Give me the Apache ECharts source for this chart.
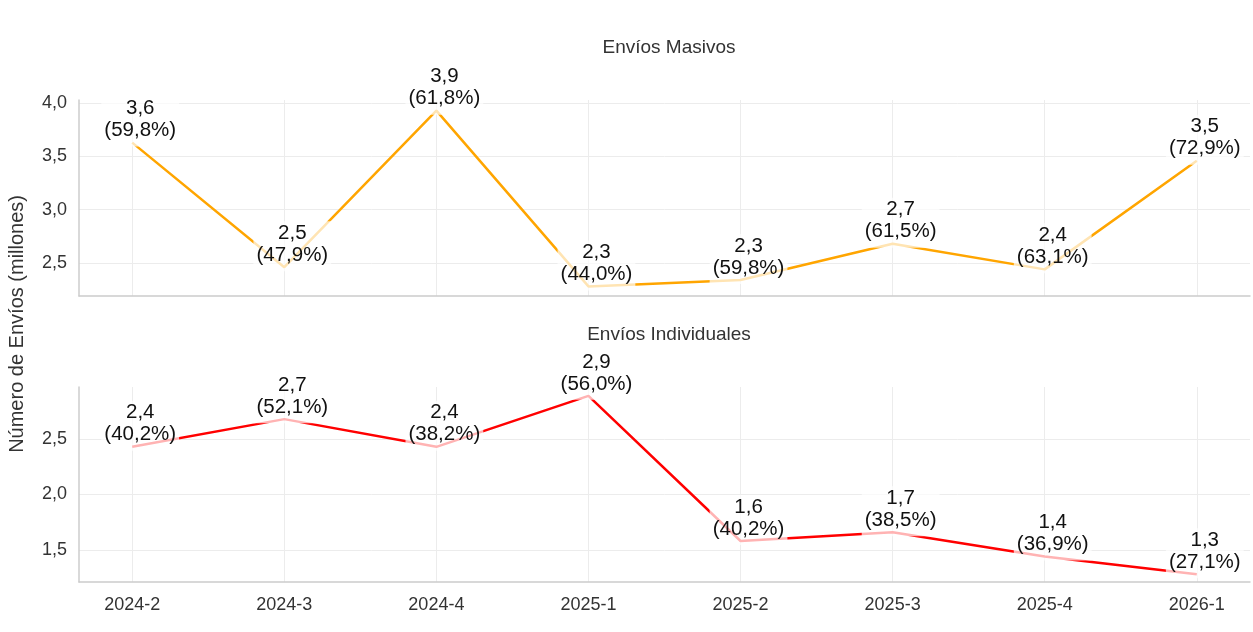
<!DOCTYPE html>
<html>
<head>
<meta charset="utf-8">
<script src="https://cdn.jsdelivr.net/npm/echarts@6/dist/echarts.min.js"></script>
<style>
  html, body { margin: 0; padding: 0; background: #fff; }
  #chart { width: 1253px; height: 632px; }
</style>
</head>
<body>
<div id="chart"></div>
<script>
// trimestres
const categories = ["2024-2", "2024-3", "2024-4", "2025-1", "2025-2", "2025-3", "2025-4", "2026-1"];
// millones de envíos
const masivos = [3.63, 2.46, 3.93, 2.28, 2.34, 2.68, 2.44, 3.46];
const individuales = [2.43, 2.68, 2.43, 2.89, 1.58, 1.66, 1.44, 1.28];
// porcentaje sobre el total
const masivosPct = [59.8, 47.9, 61.8, 44.0, 59.8, 61.5, 63.1, 72.9];
const individualesPct = [40.2, 52.1, 38.2, 56.0, 40.2, 38.5, 36.9, 27.1];

const FONT = "Liberation Sans, Arial, sans-serif";
const coma = (n, d) => n.toFixed(d).replace(".", ",");

const chart = echarts.init(document.getElementById("chart"));

function xAxisCfg(gridIndex, showLabels) {
  return {
    type: "value",
    gridIndex: gridIndex,
    min: -0.35,
    max: categories.length - 1 + 0.35,
    minInterval: 1,
    maxInterval: 1,
    axisLine: { show: true, onZero: false, lineStyle: { color: "#cccccc", width: 1.5 } },
    axisTick: { show: false },
    axisLabel: {
      show: showLabels,
      color: "#333",
      fontFamily: FONT,
      fontSize: 18,
      margin: 14,
      formatter: v => (Number.isInteger(v) ? categories[v] : "")
    },
    splitLine: { show: true, showMinLine: false, showMaxLine: false, lineStyle: { color: "#ececec", width: 1 } }
  };
}

function yAxisCfg(gridIndex, min, max) {
  return {
    type: "value",
    gridIndex: gridIndex,
    min: min,
    max: max,
    minInterval: 0.5,
    maxInterval: 0.5,
    axisLine: { show: true, onZero: false, lineStyle: { color: "#cccccc", width: 1.5 } },
    axisTick: { show: false },
    axisLabel: {
      color: "#333",
      fontFamily: FONT,
      fontSize: 18,
      margin: 12,
      formatter: v => (Math.abs(v * 2 - Math.round(v * 2)) < 1e-6 ? coma(v, 1) : "")
    },
    splitLine: { show: true, showMinLine: false, showMaxLine: false, lineStyle: { color: "#ececec", width: 1 } }
  };
}

function lineSeries(idx, values, pct, color) {
  return {
    type: "line",
    xAxisIndex: idx,
    yAxisIndex: idx,
    data: values.map((v, i) => [i, v]),
    symbol: "circle",
    symbolSize: 0,
    lineStyle: { color: color, width: 2.5 },
    itemStyle: { color: color },
    label: {
      show: true,
      position: "top",
      distance: -4,
      offset: [8, 0],
      color: "#111",
      fontFamily: FONT,
      fontSize: 20.5,
      lineHeight: 22,
      align: "center",
      backgroundColor: "rgba(255,255,255,0.7)",
      padding: [1, 3, 5, 3],
      formatter: p => coma(values[p.dataIndex], 1) + "\n(" + coma(pct[p.dataIndex], 1) + "%)"
    },
    emphasis: { disabled: true },
    animation: false
  };
}

chart.setOption({
  backgroundColor: "#ffffff",
  title: [
    { text: "Envíos Masivos", left: 664, top: 33, textAlign: "center",
      textStyle: { fontFamily: FONT, fontSize: 19, fontWeight: "normal", color: "#333" } },
    { text: "Envíos Individuales", left: 664, top: 320, textAlign: "center",
      textStyle: { fontFamily: FONT, fontSize: 19, fontWeight: "normal", color: "#333" } }
  ],
  graphic: [{
    type: "text",
    left: 7,
    top: 195,
    rotation: Math.PI / 2,
    style: { text: "Número de Envíos (millones)", fontFamily: FONT, fontSize: 20, fill: "#333" }
  }],
  grid: [
    { left: 79, right: 3, top: 100, height: 196 },
    { left: 79, right: 3, top: 387, height: 195 }
  ],
  xAxis: [xAxisCfg(0, false), xAxisCfg(1, true)],
  yAxis: [yAxisCfg(0, 2.19, 4.03), yAxisCfg(1, 1.21, 2.97)],
  series: [
    lineSeries(0, masivos, masivosPct, "#FFA500"),
    lineSeries(1, individuales, individualesPct, "#FF0000")
  ]
});
</script>
</body>
</html>
